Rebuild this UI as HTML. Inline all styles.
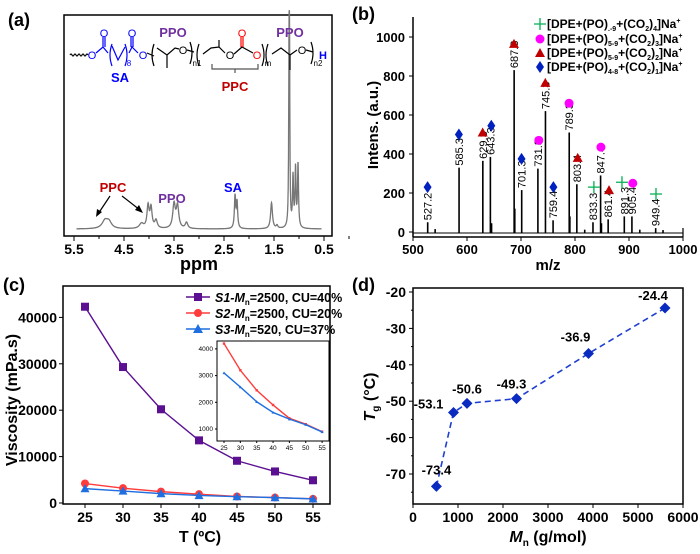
<!DOCTYPE html>
<html><head><meta charset="utf-8"><style>
body{margin:0;background:#fff}
svg{font-family:"Liberation Sans",Arial,sans-serif;font-weight:bold}
</style></head><body>
<svg id="fig" width="700" height="549" viewBox="0 0 700 549" xmlns="http://www.w3.org/2000/svg">
<g id="pa"></g>
<g id="pb"></g>
<g id="pc"></g>
<g id="pd"></g>
</svg>
<script>
// ---------- Panel (a) NMR data ----------
const nmrShift=[4.88,4.80,4.15,4.02,3.96,3.86,3.50,3.43,3.25,2.28,2.24,1.55,1.44,1.20,1.19,1.12,1.07,1.02];
const nmrHeight=[8,6,5,22,20,8,24,22,6,32,26,26,3,150,150,50,58,63];
const nmrWidth=[0.07,0.06,0.05,0.025,0.025,0.03,0.03,0.03,0.03,0.015,0.015,0.022,0.02,0.008,0.008,0.012,0.012,0.012];
const nmrTicks=[5.5,4.5,3.5,2.5,1.5,0.5];
// ---------- Panel (b) MS data ----------
const msMz=[527.2,541,585.3,629.3,643.3,645.5,687.3,688.5,701.3,731.3,745.3,759.4,789.3,790.5,803.4,818,833.3,847.4,849,861.4,891.3,905.4,920,949.4,963];
const msInt=[50,15,330,365,385,45,830,120,215,325,620,60,510,80,245,12,50,290,45,65,80,80,12,20,10];
const msLabels=["527.2","","585.3","629.3","643.3","","687.3","","701.3","731.3","745.3","759.4","789.3","","803.4","","833.3","847.4","","861.4","891.3","905.4","","949.4",""];
const diaX=[527,585,645,701,760], diaY=[230,500,545,375,230];
const triX=[629,687,745,805,863], triY=[510,965,765,380,215];
const cirX=[733,789,848,907], cirY=[470,660,435,250];
const plusX=[835,887,950], plusY=[230,255,195];
const msXTicks=[500,600,700,800,900,1000];
const msYTicks=[0,200,400,600,800,1000];
// ---------- Panel (c) viscosity data ----------
const tempC=[25,30,35,40,45,50,55];
const viscS1=[42300,29300,20200,13500,9100,6800,4900];
const viscS2=[4200,3200,2450,1900,1400,1180,900];
const viscS3=[3100,2570,2020,1620,1370,1160,890];
const cYTicks=[0,10000,20000,30000,40000];
const insetYTicks=[1000,2000,3000,4000];
// ---------- Panel (d) Tg data ----------
const mnVals=[520,900,1200,2300,3900,5600];
const tgVals=[-73.4,-53.1,-50.6,-49.3,-36.9,-24.4];
const tgLabels=["-73.4","-53.1","-50.6","-49.3","-36.9","-24.4"];
const dXTicks=[0,1000,2000,3000,4000,5000,6000];
const dYTicks=[-70,-60,-50,-40,-30,-20];

const NS="http://www.w3.org/2000/svg";
function mk(p,tag,attrs,txt){const e=document.createElementNS(NS,tag);for(const k in attrs)e.setAttribute(k,attrs[k]);if(txt!==undefined)e.textContent=txt;p.appendChild(e);return e;}

// ================= (a) =================
(function(){
const g=document.getElementById('pa');
const x=v=>74+(5.5-v)*50, base=229;
const t=mk(g,'text',{x:8,y:26,'font-size':18},'(a)');


const fr=mk(g,'rect',{x:64,y:15,width:268,height:221,fill:'none',stroke:'#000','stroke-width':1.5});


nmrTicks.forEach(v=>{
 mk(g,'line',{x1:x(v),x2:x(v),y1:236,y2:241,stroke:'#000'});
 const l=mk(g,'text',{x:x(v),y:254,'font-size':14,'text-anchor':'middle'},v.toFixed(1));
 
 
 mk(g,'line',{x1:x(v-0.5),x2:x(v-0.5),y1:236,y2:239,stroke:'#000'});
});
const xt=mk(g,'text',{x:199,y:270,'font-size':18,'text-anchor':'middle'},'ppm');


let d='';
for(let s=5.45;s>=0.55;s-=0.003){let y=0;for(let i=0;i<nmrShift.length;i++){const u=(s-nmrShift[i])/nmrWidth[i];y+=nmrHeight[i]/(1+u*u);}d+=(d?'L':'M')+x(s).toFixed(1)+','+(base-y).toFixed(1);}
const sp=mk(g,'path',{d:d,fill:'none',stroke:'#777','stroke-width':1.3});


const a1=mk(g,'text',{x:113,y:192,'font-size':13,fill:'#c00000','text-anchor':'middle'},'PPC');


mk(g,'line',{x1:110,y1:196,x2:98,y2:214,stroke:'#000','stroke-width':1.2});
mk(g,'path',{d:'M96,217 L97,209 L102,212Z',fill:'#000'});
mk(g,'line',{x1:122,y1:196,x2:140,y2:210,stroke:'#000','stroke-width':1.2});
mk(g,'path',{d:'M143,213 L135,210 L139,205Z',fill:'#000'});
const a2=mk(g,'text',{x:172,y:203,'font-size':13,fill:'#7030a0','text-anchor':'middle'},'PPO');


const a3=mk(g,'text',{x:233,y:192,'font-size':13,fill:'#0000ff','text-anchor':'middle'},'SA');


const st=mk(g,'g',{'stroke-width':1.2,fill:'none'});


mk(st,'path',{d:'M70,55 q1,-2 2,0 q1,2 2,0 q1,-2 2,0 q1,2 2,0 q1,-2 2,0 q1,2 2,0 q1,-2 2,0 q1,2 2,0 q1,-2 2,0',stroke:'#000'});
mk(st,'path',{d:'M96,53 L103,47 L108,53 M103,47 L103,37 M105,47 L105,37 M112,46 L118,60 L125,47 M129,53 L132,47 L138,53 M131,47 L131,37 M133,47 L133,37',stroke:'#0000ff'});
mk(st,'path',{d:'M112,44 q-4,11 0,22 M125,44 q4,11 0,22',stroke:'#0000ff'});
mk(st,'path',{d:'M147,53 L154,56 M157,48 L167,55 L175,48 L179,49 M167,55 L167,68 M154,44 q-4,11 0,22 M190,42 q4,11 0,22 M187,50 L194,52',stroke:'#000'});
mk(st,'path',{d:'M199,44 q-4,11 0,22 M203,54 L211,48 L219,47 L225,53 M219,47 L219,40 M234,54 L242,47 L253,53 M262,44 q4,11 0,22 M268,44 q-4,11 0,22 M272,54 L281,48 L290,55 L297,50 M290,55 L290,70 M311,42 q4,11 0,22 M306,50 L313,52',stroke:'#000'});
mk(st,'path',{d:'M241,47 L241,37 M243,47 L243,37',stroke:'#ff0000'});
mk(st,'path',{d:'M212,64 L212,69 L258,69 L258,64 M235,69 L235,73',stroke:'#555'});
[['O',92,59,'#0000ff',11],['O',104,37,'#0000ff',11],['O',132,37,'#0000ff',11],['O',143,59,'#0000ff',11],['O',183,54,'#000',11],['O',230,59,'#000',11],['O',242,37,'#ff0000',11],['O',257,59,'#ff0000',11],['O',302,54,'#000',11],['H',323,59,'#0000ff',11],
 ['8',129,66,'#0000ff',8],['n1',197,66,'#000',8],['m',268,66,'#000',8],['n2',318,66,'#000',8],
 ['PPO',173,37,'#7030a0',13],['PPO',290,37,'#7030a0',13],['SA',120,82,'#0000ff',13],['PPC',235,91,'#c00000',13]].forEach(a=>{
 const e=mk(g,'text',{x:a[1],y:a[2],fill:a[3],'font-size':a[4],'text-anchor':'middle','font-weight':a[4]<12&&a[0]!=='H'?'normal':'bold'},a[0]);
 
 
});
})();

// ================= (b) =================
(function(){
const g=document.getElementById('pb');
const x=v=>413+(v-500)*0.54, y=v=>232-v*0.195;
const t=mk(g,'text',{x:352,y:20,'font-size':18},'(b)');


mk(g,'line',{x1:413,y1:17,x2:413,y2:237,stroke:'#000','stroke-width':1.5});
mk(g,'line',{x1:413,y1:237,x2:683,y2:237,stroke:'#000','stroke-width':1.5});
mk(g,'line',{x1:683,y1:228,x2:683,y2:237,stroke:'#000','stroke-width':1.2});
mk(g,'line',{x1:413,y1:233,x2:683,y2:233,stroke:'#000','stroke-width':1});
msXTicks.forEach(v=>{mk(g,'line',{x1:x(v),x2:x(v),y1:237,y2:241,stroke:'#000'});
 const l=mk(g,'text',{x:x(v),y:254,'font-size':13,'text-anchor':'middle'},v);
 
 });
msYTicks.forEach(v=>{mk(g,'line',{x1:409,x2:413,y1:y(v),y2:y(v),stroke:'#000'});
 const l=mk(g,'text',{x:405,y:y(v)+5,'font-size':13,'text-anchor':'end'},v);
 
 });
const xt=mk(g,'text',{x:548,y:270,'font-size':15,'text-anchor':'middle'},'m/z');


const yt=mk(g,'text',{x:0,y:0,'font-size':15,'text-anchor':'middle',transform:'translate(378,125) rotate(-90)'},'Intens. (a.u.)');


msMz.forEach((m,i)=>{
 const pk=mk(g,'line',{x1:x(m),x2:x(m),y1:233,y2:y(msInt[i]),stroke:'#000','stroke-width':1.6});
 
 
 if(msLabels[i]){const l=mk(g,'text',{x:0,y:0,'font-size':11,'font-weight':'normal',transform:`translate(${x(m)+4},${y(msInt[i])-2}) rotate(-90)`},msLabels[i]);
 
 }
});
function dia(p,cx,cy,c){return mk(p,'path',{d:`M${cx},${cy-6}L${cx+4},${cy}L${cx},${cy+6}L${cx-4},${cy}Z`,fill:c});}
function tri(p,cx,cy,c){return mk(p,'path',{d:`M${cx},${cy-5}L${cx+5},${cy+4}L${cx-5},${cy+4}Z`,fill:c});}
function cir(p,cx,cy,c){return mk(p,'circle',{cx:cx,cy:cy,r:4.5,fill:c});}
function plus(p,cx,cy,c){return mk(p,'path',{d:`M${cx-6},${cy}H${cx+6}M${cx},${cy-6}V${cy+6}`,stroke:c,'stroke-width':1.3});}
diaX.forEach((m,i)=>{const e=dia(g,x(m),y(diaY[i]),'#0020c0');});
triX.forEach((m,i)=>{const e=tri(g,x(m),y(triY[i]),'#c00000');});
cirX.forEach((m,i)=>{const e=cir(g,x(m),y(cirY[i]),'#ff00ff');});
plusX.forEach((m,i)=>{const e=plus(g,x(m),y(plusY[i]),'#00b050');});
const leg=mk(g,'g',{});


const sub=[['.-9','4'],['5-9','3'],['5-9','2'],['4-8','1']];
const fns=[plus,cir,tri,dia], cols=['#00b050','#ff00ff','#c00000','#0020c0'];
[28,43,57,71].forEach((yy,i)=>{fns[i](leg,540,yy-4,cols[i]);
 const te=mk(leg,'text',{x:547,y:yy,'font-size':12});
 
 
 te.innerHTML=`[DPE+(PO)<tspan font-size="7" dy="3">${sub[i][0]}</tspan><tspan dy="-3">+(CO</tspan><tspan font-size="7" dy="3">2</tspan><tspan dy="-3">)</tspan><tspan font-size="7" dy="3">${sub[i][1]}</tspan><tspan dy="-3">]Na</tspan><tspan font-size="7" dy="-5">+</tspan>`;});
})();

// ================= (c) =================
(function(){
const g=document.getElementById('pc');
const x=v=>85+(v-25)*7.6, y=v=>503-v*0.00464;
const t=mk(g,'text',{x:3,y:291,'font-size':18},'(c)');


mk(g,'rect',{x:63,y:286,width:267,height:218,fill:'none',stroke:'#000','stroke-width':1.5});
tempC.forEach(v=>{mk(g,'line',{x1:x(v),x2:x(v),y1:504,y2:508,stroke:'#000'});
 const l=mk(g,'text',{x:x(v),y:522,'font-size':14,'text-anchor':'middle'},v);
 
 });
cYTicks.forEach(v=>{mk(g,'line',{x1:59,x2:63,y1:y(v),y2:y(v),stroke:'#000'});
 const l=mk(g,'text',{x:57,y:y(v)+5,'font-size':14,'text-anchor':'end'},v);
 
 });
const xt=mk(g,'text',{x:200,y:542,'font-size':16,'text-anchor':'middle'},'T (ºC)');


const yt=mk(g,'text',{x:0,y:0,'font-size':16,'text-anchor':'middle',transform:'translate(17,400) rotate(-90)'},'Viscosity (mPa.s)');


function series(p,xf,yf,vals,col,shape,sz,name){
 const pl=mk(p,'polyline',{points:tempC.map((tv,i)=>xf(tv)+','+yf(vals[i])).join(' '),fill:'none',stroke:col,'stroke-width':1.4});
 
 
 tempC.forEach((tv,i)=>{const cx=xf(tv),cy=yf(vals[i]);let e;
  if(shape==='s')e=mk(p,'rect',{x:cx-sz,y:cy-sz,width:2*sz,height:2*sz,fill:col});
  else if(shape==='c')e=mk(p,'circle',{cx:cx,cy:cy,r:sz,fill:col});
  else e=mk(p,'path',{d:`M${cx},${cy-sz}L${cx+sz},${cy+sz*0.8}L${cx-sz},${cy+sz*0.8}Z`,fill:col});
  
  });
}
series(g,x,y,viscS1,'#5b0f91','s',4,'s1');
series(g,x,y,viscS2,'#ff3b3b','c',4,'s2');
series(g,x,y,viscS3,'#1f6fe0','t',4.5,'s3');
const leg=mk(g,'g',{});


[['#5b0f91','s','S1','2500, CU=40%'],['#ff3b3b','c','S2','2500, CU=20%'],['#1f6fe0','t','S3','520, CU=37%']].forEach((L,i)=>{
 const yy=297+i*16;
 mk(leg,'line',{x1:186,x2:210,y1:yy,y2:yy,stroke:L[0],'stroke-width':1.4});
 if(L[1]==='s')mk(leg,'rect',{x:194,y:yy-4,width:8,height:8,fill:L[0]});
 else if(L[1]==='c')mk(leg,'circle',{cx:198,cy:yy,r:4,fill:L[0]});
 else mk(leg,'path',{d:`M198,${yy-5}L203,${yy+4}L193,${yy+4}Z`,fill:L[0]});
 const te=mk(leg,'text',{x:215,y:yy+5,'font-size':12.5});
 
 
 te.innerHTML=`<tspan font-style="italic">${L[2]}-M</tspan><tspan font-size="8" dy="3">n</tspan><tspan dy="-3">=${L[3]}</tspan>`;
});
const ins=mk(g,'g',{});


const ix=v=>224+(v-25)*3.27, iy=v=>429-(v-1000)*0.0267;
mk(ins,'rect',{x:217,y:341,width:112,height:100,fill:'#fff',stroke:'#000','stroke-width':1});
tempC.forEach(v=>{mk(ins,'line',{x1:ix(v),x2:ix(v),y1:441,y2:443,stroke:'#000'});
 const l=mk(ins,'text',{x:ix(v),y:450,'font-size':6.5,'font-weight':'normal','text-anchor':'middle'},v);
 
 });
insetYTicks.forEach(v=>{mk(ins,'line',{x1:215,x2:217,y1:iy(v),y2:iy(v),stroke:'#000'});
 const l=mk(ins,'text',{x:213,y:iy(v)+2,'font-size':6.5,'font-weight':'normal','text-anchor':'end'},v);
 
 });
series(ins,ix,iy,viscS2,'#ff3b3b','s',1.2,'inset-s2');
series(ins,ix,iy,viscS3,'#1f6fe0','t',1.5,'inset-s3');
})();

// ================= (d) =================
(function(){
const g=document.getElementById('pd');
const x=v=>413+v*0.045, y=v=>292-(v+20)*3.64;
const t=mk(g,'text',{x:352,y:291,'font-size':18},'(d)');


mk(g,'rect',{x:413,y:288,width:270,height:216,fill:'none',stroke:'#000','stroke-width':1.5});
dXTicks.forEach(v=>{mk(g,'line',{x1:x(v),x2:x(v),y1:504,y2:508,stroke:'#000'});
 const l=mk(g,'text',{x:x(v),y:522,'font-size':14,'text-anchor':'middle'},v);
 
 });
dYTicks.forEach(v=>{mk(g,'line',{x1:409,x2:413,y1:y(v),y2:y(v),stroke:'#000'});
 mk(g,'line',{x1:411,x2:413,y1:y(v-5),y2:y(v-5),stroke:'#000'});
 const l=mk(g,'text',{x:406,y:y(v)+5,'font-size':14,'text-anchor':'end'},v);
 
 });
const xt=mk(g,'text',{x:548,y:542,'font-size':16,'text-anchor':'middle'});
xt.innerHTML='<tspan font-style="italic">M</tspan><tspan font-size="10" dy="4">n</tspan><tspan dy="-4"> (g/mol)</tspan>';


const yt=mk(g,'text',{x:0,y:0,'font-size':16,'text-anchor':'middle',transform:'translate(375,397) rotate(-90)'});
yt.innerHTML='<tspan font-style="italic">T</tspan><tspan font-size="10" dy="4">g</tspan><tspan dy="-4"> (°C)</tspan>';


const pl=mk(g,'polyline',{points:mnVals.map((m,i)=>x(m)+','+y(tgVals[i])).join(' '),fill:'none',stroke:'#1f3fd0','stroke-width':1.6,'stroke-dasharray':'6,4'});


const off=[[0,-12],[-25,-4],[0,-10],[-5,-10],[-13,-12],[-12,-8]];
mnVals.forEach((m,i)=>{const cx=x(m),cy=y(tgVals[i]);
 const e=mk(g,'path',{d:`M${cx},${cy-5.5}L${cx+5.5},${cy}L${cx},${cy+5.5}L${cx-5.5},${cy}Z`,fill:'#0a2ac0'});
 
 
 const l=mk(g,'text',{x:cx+off[i][0],y:cy+off[i][1],'font-size':13,'text-anchor':'middle'},tgLabels[i]);
 
 });
})();
</script>
</body></html>
